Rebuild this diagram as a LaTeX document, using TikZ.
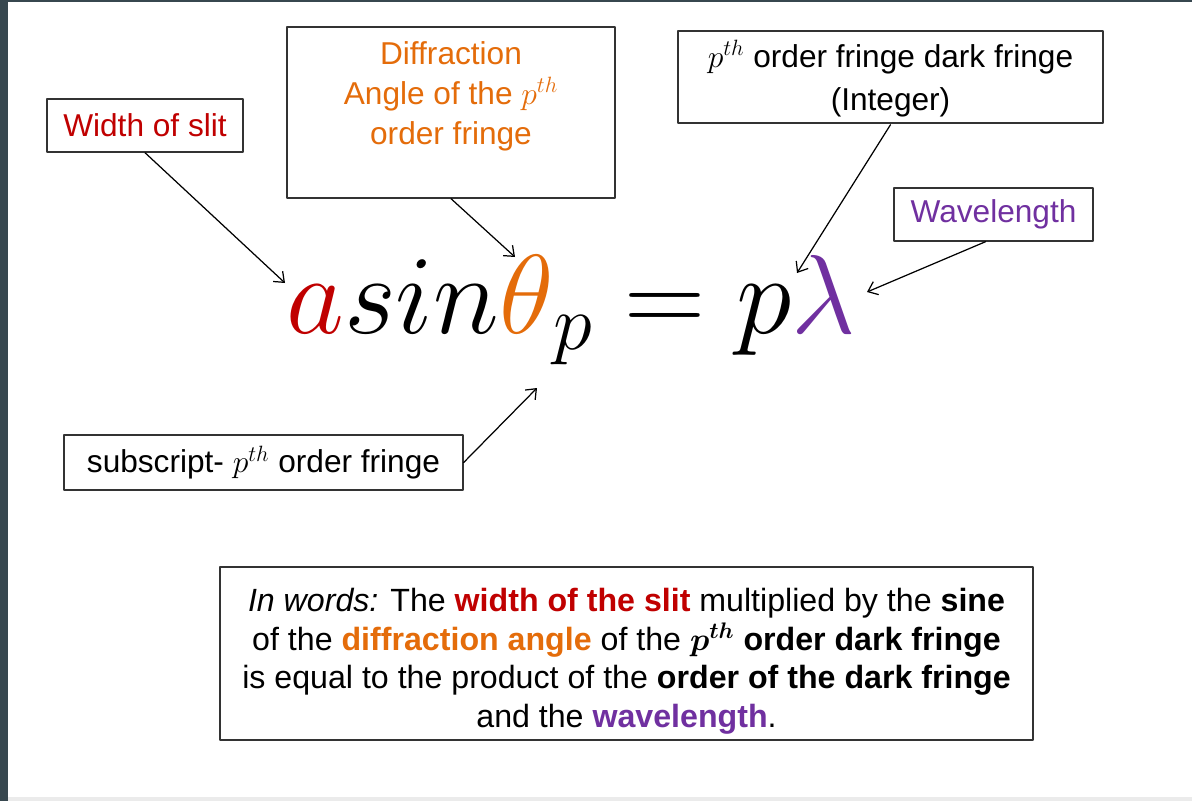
\RequirePackage{fix-cm}
\documentclass[tikz,border=0pt]{standalone}
\usepackage{bm}
\usepackage{fontspec}
\setmainfont{Liberation Sans}
\usetikzlibrary{arrows.meta}
\definecolor{slitred}{HTML}{C00000}
\definecolor{angorange}{HTML}{E46C0A}
\definecolor{wavepurple}{HTML}{7030A0}
\definecolor{framegray}{HTML}{37474F}
\begin{document}
\begin{tikzpicture}[x=0.02cm, y=-0.02cm, font=\fontsize{18}{23}\selectfont, line join=round, line cap=round,
	box/.style={draw=black!80, line width=0.8pt, inner sep=0pt, align=center, fill=white},
	pointer/.style={-{Straight Barb[length=5pt,width=8pt]}, line width=0.7pt}]
	\useasboundingbox (0,0) rectangle (1192,801);
	\fill[white] (0,0) rectangle (1192,801);
	\fill[framegray] (0,0) rectangle (8,801);
	\fill[framegray] (0,0) rectangle (1192,2);
	\fill[black!8] (8,797) rectangle (1192,801);
	\node[box, minimum width=3.92cm, minimum height=1.06cm, text=slitred] (A) at (145,125.5) {Width of slit};
	\node[box, minimum width=6.56cm, minimum height=3.42cm, text=angorange] (B) at (451,112.5)
	{\parbox[t][3.42cm][t]{6.5cm}{\centering\rule{0pt}{0.74cm}Diffraction\\Angle of the $p^{th}$\\order fringe}};
	\node[box, minimum width=8.5cm, minimum height=1.84cm, font=\fontsize{18}{24.5}\selectfont] (C) at (890.5,77)
	{\rule{0pt}{17pt}$p^{th}$ order fringe dark fringe\\(Integer)};
	\node[box, minimum width=3.98cm, minimum height=1.06cm, text=wavepurple] (D) at (993.5,214.5) {Wavelength};
	\node[box, minimum width=7.98cm, minimum height=1.1cm] (E) at (263.5,462.5) {subscript- $p^{th}$ order fringe};
	\node[box, minimum width=16.26cm, minimum height=3.46cm, font=\fontsize{18.3}{22}\selectfont] (W) at (626.5,653.5)
	{\rule{0pt}{22pt}\textit{In words:} The \textbf{\color{slitred}width of the slit} multiplied by the \textbf{sine}\\
	of the \textbf{\color{angorange}diffraction angle} of the $\bm{p^{th}}$ \textbf{order dark fringe}\\
	is equal to the product of the \textbf{order of the dark fringe}\\
	and the \textbf{\color{wavepurple}wavelength}.};
	\node[anchor=base west, inner sep=0pt, font=\fontsize{64}{72}\selectfont] (Q) at (286,333)
	{$\textcolor{slitred}{a}sin\textcolor{angorange}{\theta}_p = p\textcolor{wavepurple}{\lambda}$};
	\coordinate (a) at (285,283);
	\coordinate (t) at (515,257);
	\coordinate (p) at (797,273);
	\coordinate (l) at (867,292);
	\coordinate (s) at (537,388);
	\draw[pointer] (A.south) -- (a);
	\draw[pointer] (B.south) -- (t);
	\draw[pointer] ([yshift=-0.02cm]C.south) -- (p);
	\draw[pointer] ([xshift=-0.16cm]D.south) -- (l);
	\draw[pointer] (E.east) -- (s);
\end{tikzpicture}
\end{document}
